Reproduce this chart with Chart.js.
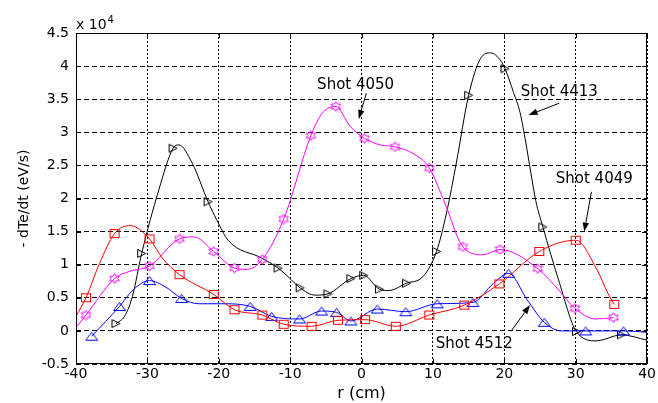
<!DOCTYPE html>
<html><head><meta charset="utf-8">
<script src="https://cdn.jsdelivr.net/npm/chart.js@4"></script>
<style>html,body{margin:0;padding:0;background:#fff;}canvas{display:block;}</style>
</head><body>
<canvas id="c" width="658" height="403"></canvas>
<script>
// ---- tick labels ----
const xTicks = [-40, -30, -20, -10, 0, 10, 20, 30, 40];
const yTicks = [-0.5, 0, 0.5, 1, 1.5, 2, 2.5, 3, 3.5, 4, 4.5];

// ---- Shot 4049 (red squares), values in units of 1e4 eV/s ----
const s4049R = [-40, -38.6, -36.7, -34.6, -32.4, -29.7, -27.9, -25.5, -20.7, -17.8, -13.9, -10.9, -7.0, -3.3, 0.5, 4.8, 9.5, 14.4, 19.3, 24.9, 30.0, 33.0, 34.5, 35.4];
const s4049V = [0.22, 0.50, 1.02, 1.47, 1.59, 1.39, 1.10, 0.85, 0.55, 0.32, 0.24, 0.10, 0.07, 0.16, 0.17, 0.07, 0.24, 0.39, 0.71, 1.20, 1.37, 0.92, 0.57, 0.40];
const s4049M = [0, 1, 0, 1, 0, 1, 0, 1, 1, 1, 1, 1, 1, 1, 1, 1, 1, 1, 1, 1, 1, 0, 0, 1];

// ---- Shot 4050 (magenta hexagrams) ----
const s4050R = [-40, -38.6, -34.6, -32.5, -29.7, -25.5, -23.5, -20.7, -17.8, -16.0, -13.9, -10.9, -7.1, -5.5, -3.6, -1.6, 0.4, 2.6, 4.7, 7.2, 9.5, 11.6, 14.2, 17.0, 19.4, 24.7, 27.6, 29.9, 32.8, 35.3];
const s4050V = [0.05, 0.24, 0.79, 0.90, 0.98, 1.39, 1.42, 1.20, 0.95, 0.93, 1.08, 1.69, 2.95, 3.29, 3.39, 3.09, 2.91, 2.81, 2.78, 2.68, 2.46, 1.95, 1.27, 1.15, 1.23, 0.94, 0.62, 0.34, 0.18, 0.20];
const s4050M = [0, 1, 1, 0, 1, 1, 0, 1, 1, 0, 1, 1, 1, 0, 1, 0, 1, 0, 1, 0, 1, 0, 1, 0, 1, 1, 0, 1, 0, 1];

// ---- Shot 4413 (black right triangles) ----
const s4413R = [-34.4, -33.2, -32.1, -30.8, -28.4, -26.4, -25.6, -23.7, -21.5, -20.3, -18.7, -14.0, -11.7, -10.3, -8.6, -6.5, -4.7, -1.5, 0.3, 2.5, 3.8, 6.3, 8.6, 10.5, 11.9, 13.3, 15.0, 16.7, 18.1, 19.5, 20.1, 21.3, 22.2, 23.0, 23.7, 24.4, 25.4, 27.6, 30.1, 32.9, 36.4, 40];
const s4413V = [0.11, 0.22, 0.52, 1.17, 2.13, 2.76, 2.81, 2.53, 1.95, 1.68, 1.37, 1.10, 0.95, 0.82, 0.65, 0.54, 0.56, 0.79, 0.84, 0.63, 0.61, 0.72, 0.82, 1.20, 1.78, 2.55, 3.56, 4.12, 4.20, 4.08, 3.96, 3.60, 3.30, 2.85, 2.40, 1.97, 1.57, 0.77, -0.01, -0.15, -0.06, -0.14];
const s4413M = [1, 0, 0, 1, 0, 1, 0, 0, 1, 0, 0, 0, 1, 0, 1, 0, 1, 1, 1, 1, 0, 1, 0, 1, 0, 0, 1, 0, 0, 0, 1, 0, 0, 0, 0, 0, 1, 0, 1, 0, 1, 0];

// ---- Shot 4512 (blue up triangles) ----
const s4512R = [-37.8, -33.9, -32.0, -29.7, -27.4, -25.2, -22.8, -19.1, -15.6, -12.6, -8.7, -5.6, -3.5, -1.5, 2.2, 6.2, 10.6, 15.6, 18.5, 20.6, 23.2, 25.6, 28.0, 31.4, 36.7, 40];
const s4512V = [-0.08, 0.37, 0.62, 0.76, 0.66, 0.49, 0.41, 0.41, 0.37, 0.22, 0.18, 0.30, 0.28, 0.15, 0.33, 0.29, 0.41, 0.43, 0.72, 0.87, 0.47, 0.13, 0.00, 0.00, 0.00, -0.02];
const s4512M = [1, 1, 0, 1, 0, 1, 0, 0, 1, 1, 1, 1, 1, 1, 1, 1, 1, 1, 0, 1, 0, 1, 0, 1, 1, 0];

// ---- annotations (data units) ----
const noteText = ['Shot 4050', 'Shot 4413', 'Shot 4049', 'Shot 4512'];
const noteX = [-0.83, 27.7, 32.6, 15.8];
const noteY = [3.72, 3.60, 2.30, -0.20];
const arrowFromX = [0.67, 27.7, 32.2, 20.9];
const arrowFromY = [3.59, 3.44, 2.10, -0.01];
const arrowToX = [-0.39, 23.4, 31.2, 23.6];
const arrowToY = [3.20, 3.26, 1.50, 0.39];

const FONT = 'DejaVu Sans';

function mk(w, h, color, draw) {
  const c = document.createElement('canvas');
  c.width = w; c.height = h;
  const g = c.getContext('2d');
  g.lineWidth = 1; g.strokeStyle = color;
  draw(g); return c;
}
const mkSquare = mk(12, 11, '#ff0000', g => { g.strokeRect(1.5, 1.5, 9, 8); });
const mkUp = mk(15, 11, '#0000ff', g => { g.beginPath(); g.moveTo(7.5, 1.5); g.lineTo(13.5, 9.5); g.lineTo(1.5, 9.5); g.closePath(); g.stroke(); });
const mkRight = mk(11, 11, '#000000', g => { g.beginPath(); g.moveTo(1.5, 1.5); g.lineTo(9.5, 5.5); g.lineTo(1.5, 9.5); g.closePath(); g.stroke(); });
const mkHex = mk(13, 11, '#ff00ff', g => {
  const cx = 6.5, cy = 5.5, R = 4.8, sx = 1.15;
  g.beginPath();
  for (let k = 0; k < 12; k++) {
    const a = (-90 + 30 * k) * Math.PI / 180;
    const r = k % 2 === 0 ? R : R / Math.sqrt(3);
    const px = cx + sx * r * Math.cos(a), py = cy + r * Math.sin(a);
    if (k === 0) g.moveTo(px, py); else g.lineTo(px, py);
  }
  g.closePath(); g.stroke();
});

function ds(label, R, V, M, color, img) {
  return {
    label,
    data: R.map((r, i) => ({ x: r, y: V[i] })),
    borderColor: color,
    backgroundColor: color,
    borderWidth: 1,
    cubicInterpolationMode: 'monotone',
    pointStyle: img,
    pointRadius: M.map(m => m ? 5 : 0),
    pointHoverRadius: M.map(m => m ? 5 : 0),
  };
}

const decor = {
  id: 'decor',
  afterDraw(chart) {
    const { ctx, chartArea: a, scales: { x, y } } = chart;
    ctx.save();
    // frame
    ctx.strokeStyle = '#000'; ctx.lineWidth = 1; ctx.setLineDash([]);
    ctx.strokeRect(Math.round(a.left) + 0.5, Math.round(a.top) + 0.5, Math.round(a.right - a.left) - 1, Math.round(a.bottom - a.top) - 1);
    // inner tick marks
    ctx.beginPath();
    xTicks.forEach(v => {
      const px = Math.round(x.getPixelForValue(v)) + 0.5;
      ctx.moveTo(px, a.bottom); ctx.lineTo(px, a.bottom - 5);
      ctx.moveTo(px, a.top); ctx.lineTo(px, a.top + 5);
    });
    yTicks.forEach(v => {
      const py = Math.round(y.getPixelForValue(v)) + 0.5;
      ctx.moveTo(a.left, py); ctx.lineTo(a.left + 5, py);
      ctx.moveTo(a.right, py); ctx.lineTo(a.right - 5, py);
    });
    ctx.stroke();
    // exponent label
    ctx.fillStyle = '#000';
    ctx.textBaseline = 'alphabetic'; ctx.textAlign = 'left';
    ctx.font = '14px "' + FONT + '"';
    ctx.fillText('x 10', a.left, a.top - 4);
    const w = ctx.measureText('x 10').width;
    ctx.font = '10px "' + FONT + '"';
    ctx.fillText('4', a.left + w + 1, a.top - 10);
    // annotations
    ctx.font = '15px "' + FONT + '"';
    ctx.textAlign = 'center'; ctx.textBaseline = 'middle';
    noteText.forEach((t, i) => {
      ctx.fillText(t, x.getPixelForValue(noteX[i]), y.getPixelForValue(noteY[i]));
      const x0 = x.getPixelForValue(arrowFromX[i]), y0 = y.getPixelForValue(arrowFromY[i]);
      const x1 = x.getPixelForValue(arrowToX[i]), y1 = y.getPixelForValue(arrowToY[i]);
      const ang = Math.atan2(y1 - y0, x1 - x0);
      const L = 9, W = 3.2;
      const bx = x1 - L * Math.cos(ang), by = y1 - L * Math.sin(ang);
      ctx.beginPath(); ctx.moveTo(x0, y0); ctx.lineTo(bx, by); ctx.stroke();
      ctx.beginPath();
      ctx.moveTo(x1, y1);
      ctx.lineTo(bx + W * Math.sin(ang), by - W * Math.cos(ang));
      ctx.lineTo(bx - W * Math.sin(ang), by + W * Math.cos(ang));
      ctx.closePath(); ctx.fill();
    });
    ctx.restore();
  }
};

new Chart(document.getElementById('c'), {
  type: 'line',
  data: {
    datasets: [
      ds('Shot 4049', s4049R, s4049V, s4049M, '#ff0000', mkSquare),
      ds('Shot 4050', s4050R, s4050V, s4050M, '#ff00ff', mkHex),
      ds('Shot 4512', s4512R, s4512V, s4512M, '#0000ff', mkUp),
      ds('Shot 4413', s4413R, s4413V, s4413M, '#000000', mkRight),
    ]
  },
  options: {
    responsive: false,
    animation: false,
    events: [],
    layout: { padding: { top: 33, right: 5, left: 0, bottom: 0 } },
    plugins: { legend: { display: false }, tooltip: { enabled: false } },
    scales: {
      x: {
        type: 'linear', min: -40, max: 40,
        afterBuildTicks: s => { s.ticks = xTicks.map(v => ({ value: v })); },
        afterFit: s => { s.height = 39; },
        grid: { color: '#000', lineWidth: 1, drawTicks: false },
        border: { display: false, dash: [2, 2] },
        ticks: { color: '#000', padding: 2, maxRotation: 0, autoSkip: false, font: { family: FONT, size: 14 }, callback: v => String(v) },
        title: { display: true, text: 'r (cm)', color: '#000', font: { family: FONT, size: 16 }, padding: { top: 0, bottom: 0 } }
      },
      y: {
        type: 'linear', min: -0.5, max: 4.5,
        afterBuildTicks: s => { s.ticks = yTicks.map(v => ({ value: v })); },
        afterFit: s => { s.width = 76; },
        grid: { color: '#000', lineWidth: 1, drawTicks: false },
        border: { display: false, dash: [5, 3] },
        ticks: { color: '#000', padding: 7, autoSkip: false, font: { family: FONT, size: 14 }, callback: v => String(v) },
        title: { display: true, text: '- dTe/dt (eV/s)', color: '#000', font: { family: FONT, size: 14 }, padding: { top: 16, bottom: 0 } }
      }
    }
  },
  plugins: [decor]
});
</script>
</body></html>
